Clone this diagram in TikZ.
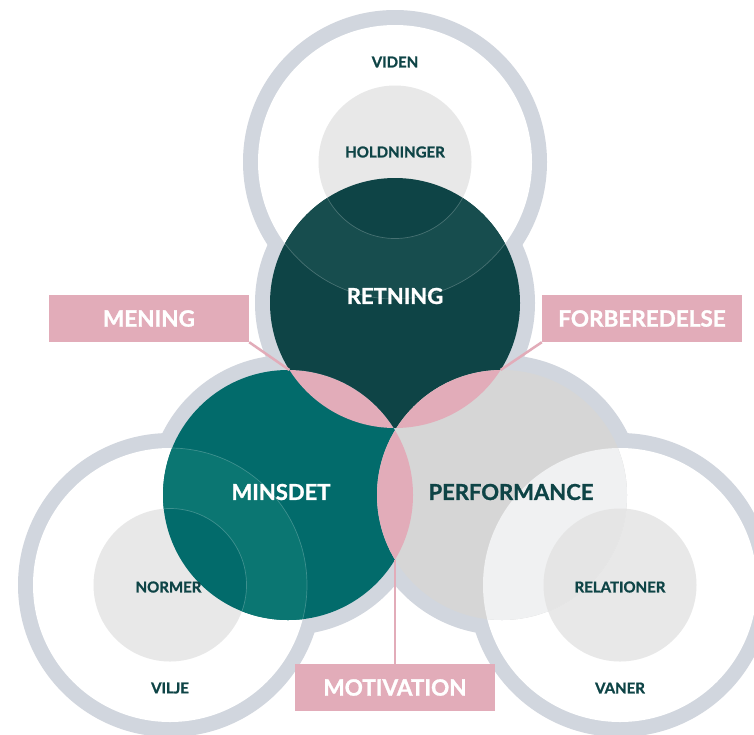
\documentclass[tikz,border=0pt]{standalone}
\usepackage{fontspec}
\setmainfont{Lato}[BoldFeatures={FakeBold=1.2}]
\definecolor{ringgray}{HTML}{D1D6DE}
\definecolor{innergray}{HTML}{E8E8E8}
\definecolor{darkgreen}{HTML}{0E4446}
\definecolor{darkband}{HTML}{174D4E}
\definecolor{teal}{HTML}{026B6B}
\definecolor{tealband}{HTML}{0B7672}
\definecolor{perfgray}{HTML}{D6D6D6}
\definecolor{perfband}{HTML}{F0F1F2}
\definecolor{perfinner}{HTML}{E5E5E5}
\definecolor{lenspink}{HTML}{E2ACB9}
\definecolor{txtdark}{HTML}{0E4446}
\begin{document}
\begin{tikzpicture}[x=1pt,y=-1pt,
  bigwhite/.style={text=white,font=\fontsize{22}{24}\selectfont\bfseries},
  bigdark/.style={text=txtdark,font=\fontsize{22}{24}\selectfont\bfseries},
  smalllbl/.style={text=txtdark,font=\fontsize{15}{17}\selectfont\bfseries},
  pinkbox/.style={fill=lenspink,text=white,minimum width=200pt,minimum height=47pt,inner sep=0pt,font=\fontsize{22.5}{25}\selectfont\bfseries},
  pinkline/.style={draw=lenspink,line width=2.5pt},
  thinarc/.style={draw=white,draw opacity=0.22,line width=0.7pt}]
\useasboundingbox (0,0) rectangle (754,734);
\fill[white] (0,0) rectangle (754,734);
% centres
\coordinate (T) at (395,162);
\coordinate (L) at (170,585);
\coordinate (R) at (620,585);
\coordinate (A) at (395,303);
\coordinate (B) at (288,495);
\coordinate (C) at (502,495);
% gray ring disks
\foreach \p in {T,L,R} \fill[ringgray] (\p) circle[radius=152pt];
\foreach \p in {A,B,C} \fill[ringgray] (\p) circle[radius=140pt];
% white interiors
\foreach \p in {T,L,R} \fill[white] (\p) circle[radius=137pt];
% inner gray disks
\foreach \p in {T,L,R} \fill[innergray] (\p) circle[radius=76.5pt];
% main colored disks
\fill[darkgreen] (A) circle[radius=125pt];
\fill[teal] (B) circle[radius=125pt];
\fill[perfgray] (C) circle[radius=125pt];
% bands
\begin{scope}
  \clip (A) circle[radius=125pt];
  \fill[darkband,even odd rule] (T) circle[radius=137pt] (T) circle[radius=76.5pt];
  \draw[thinarc] (T) circle[radius=137pt] (T) circle[radius=76.5pt];
\end{scope}
\begin{scope}
  \clip (B) circle[radius=125pt];
  \fill[tealband,even odd rule] (L) circle[radius=137pt] (L) circle[radius=76.5pt];
  \draw[thinarc] (L) circle[radius=137pt] (L) circle[radius=76.5pt];
\end{scope}
\begin{scope}
  \clip (C) circle[radius=125pt];
  \fill[perfband] (R) circle[radius=137pt];
  \fill[perfinner] (R) circle[radius=76.5pt];
\end{scope}
% pink lenses
\begin{scope}
  \clip (A) circle[radius=125pt];
  \fill[lenspink] (B) circle[radius=125pt];
  \fill[lenspink] (C) circle[radius=125pt];
\end{scope}
\begin{scope}
  \clip (B) circle[radius=125pt];
  \fill[lenspink] (C) circle[radius=125pt];
\end{scope}
% lens points
\coordinate (lAB) at (289.4,370);
\coordinate (lAC) at (500.6,370);
\coordinate (lBC) at (395,559.6);
% boxes
\node[pinkbox] (mening) at (149,318.5) {MENING};
\node[pinkbox] (forb) at (642,318.5) {FORBEREDELSE};
\node[pinkbox] (motiv) at (395,687.5) {MOTIVATION};
\draw[pinkline] (mening.south east) -- (lAB);
\draw[pinkline] (forb.south west) -- (lAC);
\draw[pinkline] (lBC) -- (motiv.north);
% labels
\node[bigwhite] (retning) at (395,296) {RETNING};
\node[bigwhite] (minsdet) at (281,492) {MINSDET};
\node[bigdark] (perf) at (511,492) {PERFORMANCE};
\node[smalllbl] (viden) at (395,62) {VIDEN};
\node[smalllbl] (hold) at (395,152) {HOLDNINGER};
\node[smalllbl] (normer) at (168.5,587) {NORMER};
\node[smalllbl] (rel) at (620,587) {RELATIONER};
\node[smalllbl] (vilje) at (170,688) {VILJE};
\node[smalllbl] (vaner) at (620,688) {VANER};
\end{tikzpicture}
\end{document}
